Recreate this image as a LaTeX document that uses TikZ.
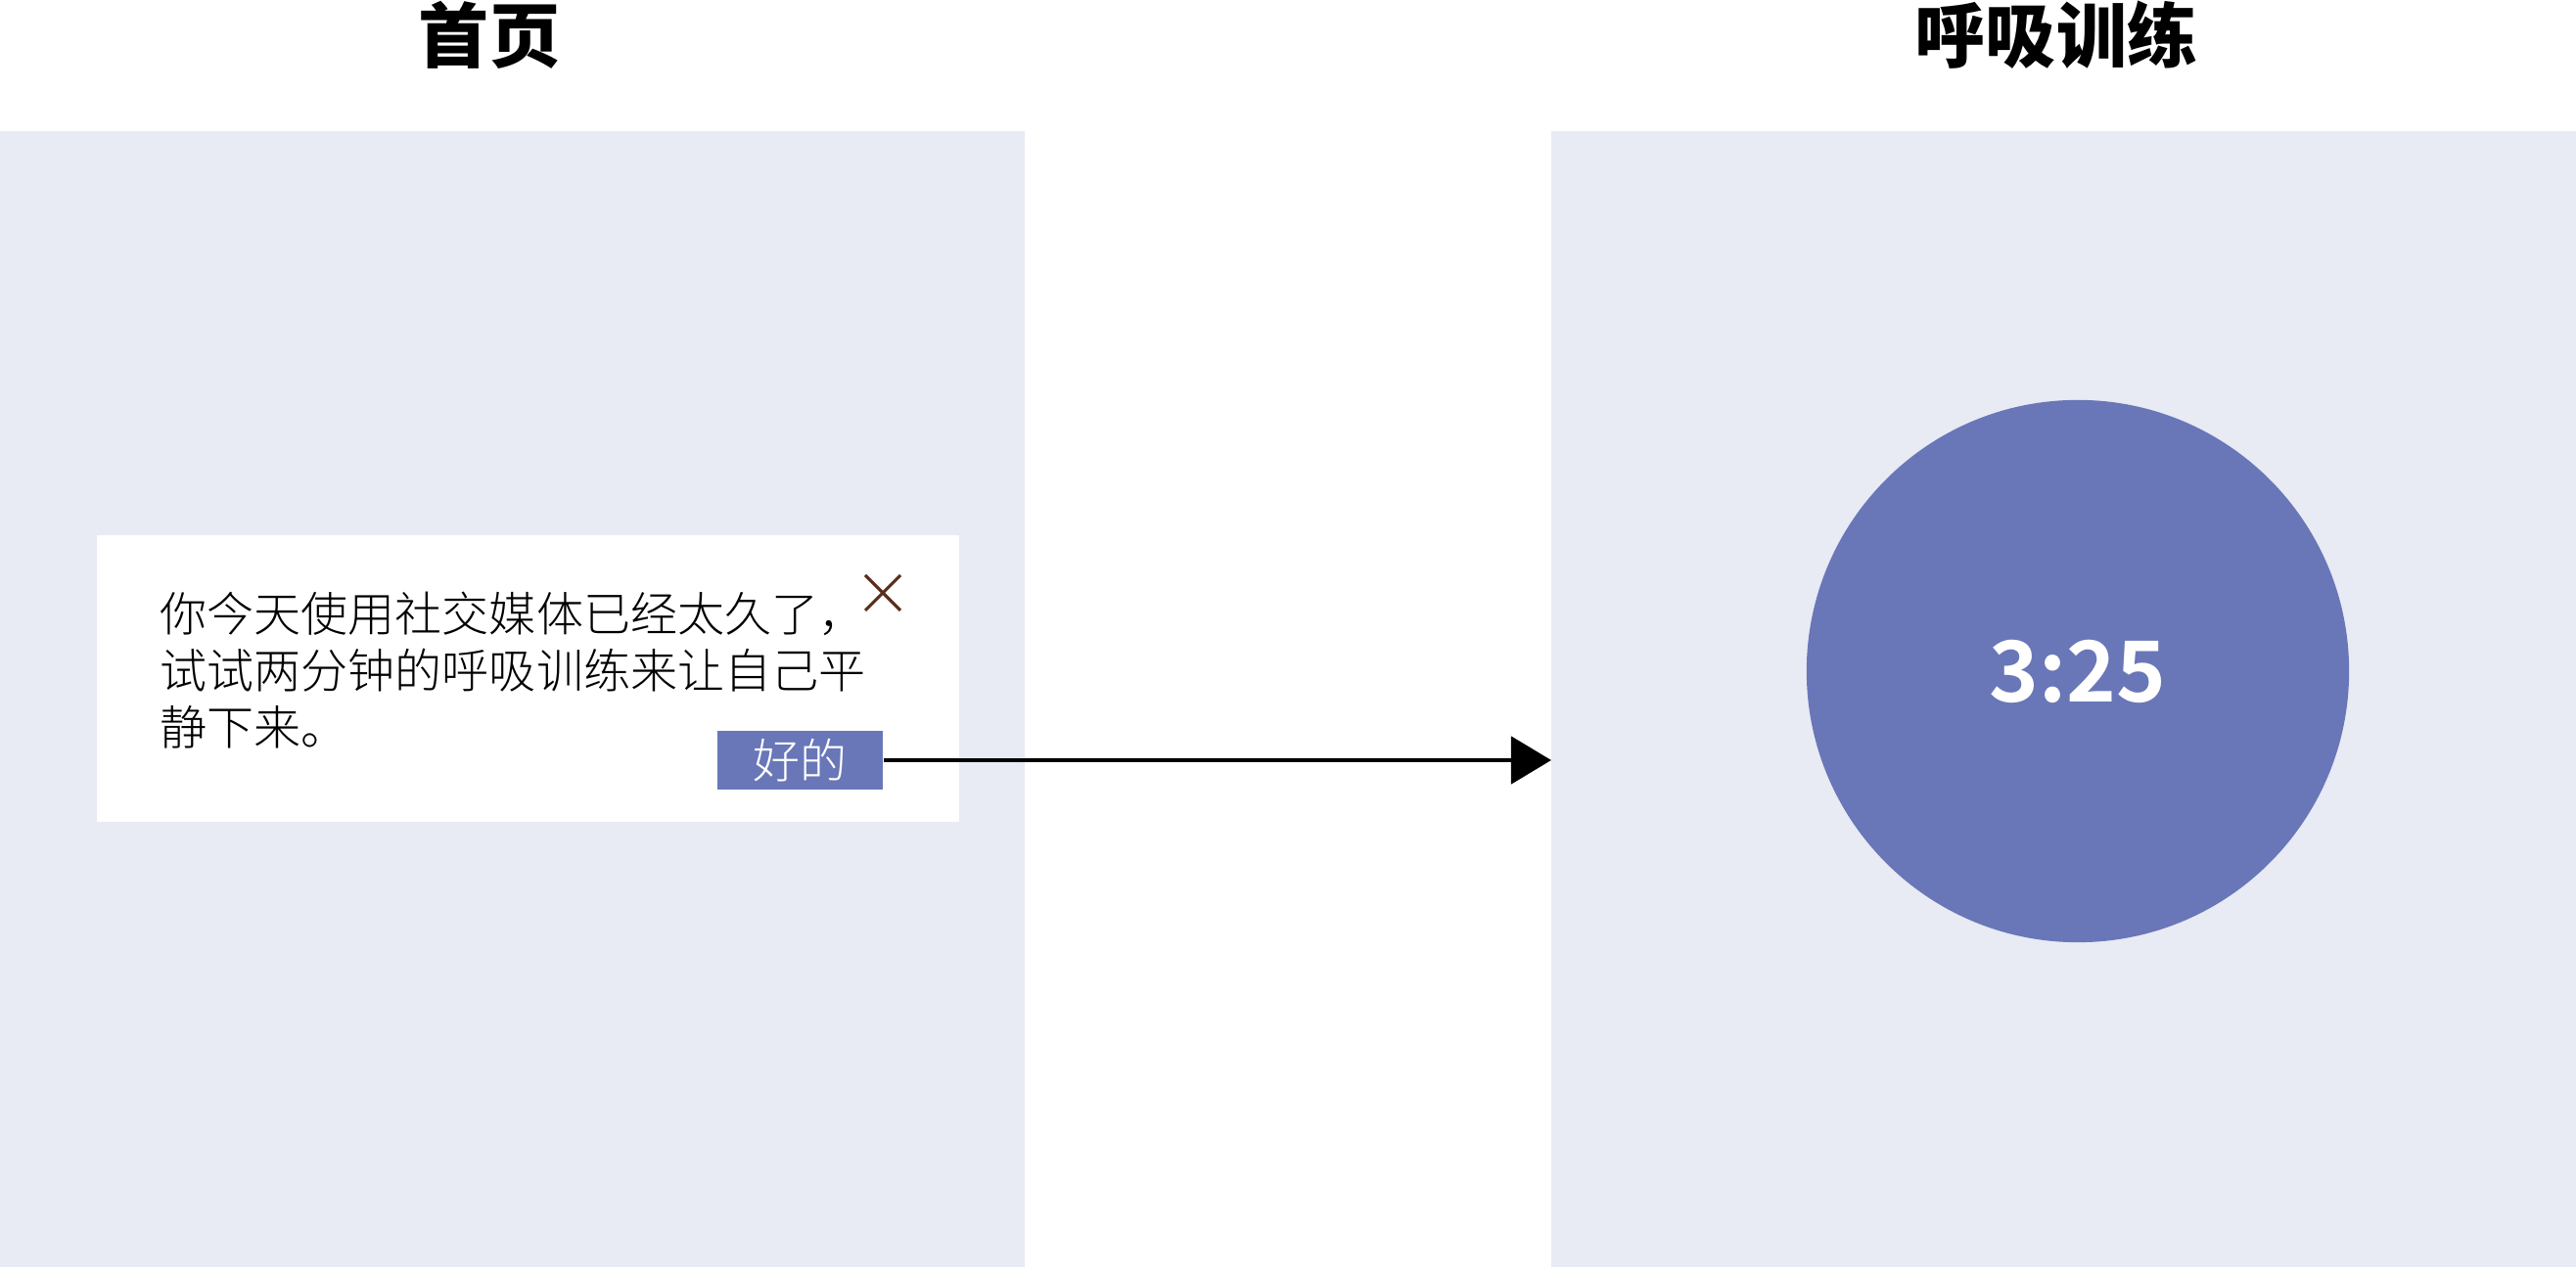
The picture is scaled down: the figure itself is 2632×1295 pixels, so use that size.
\documentclass[tikz,border=0pt]{standalone}
\usepackage{fontspec}
\usetikzlibrary{arrows.meta}
\newfontfamily\cjklight{Noto Sans CJK SC Light}
\newfontfamily\cjkheavy{Noto Sans CJK SC Black}
\newfontfamily\cjkbold{Noto Sans CJK SC Bold}
\definecolor{panelbg}{HTML}{E8EAF4}
\definecolor{accent}{HTML}{6977B8}
\definecolor{closemark}{HTML}{5A2D1C}
\tikzset{
	screentitle/.style={font=\cjkheavy\fontsize{20.5}{24}\selectfont, inner sep=0},
	msgtext/.style={font=\cjklight\fontsize{13.66}{16.5}\selectfont, align=left, inner sep=0, anchor=base west},
	okbtn/.style={fill=accent, text=white, font=\cjklight\fontsize{13.66}{16.5}\selectfont, minimum width=1.69cm, minimum height=0.6cm, inner sep=0},
	timer/.style={circle, fill=accent, text=white, font=\cjkbold\fontsize{24.5}{28}\selectfont, minimum size=5.54cm, inner sep=0},
	flow/.style={line width=1.4pt, -{Triangle[length=0.41cm, width=0.48cm]}},
	closecross/.style={draw=closemark, line width=0.9pt}
}

\begin{document}
\begin{tikzpicture}[x=0.01cm, y=-0.01cm]
			%%%%% START %%%%%
			\useasboundingbox (0, 0) rectangle (2632, 1295);
			
			% two screens
			\fill[panelbg] (0, 134) rectangle (1047, 1295);
			\fill[panelbg] (1585, 134) rectangle (2632, 1295);
			
			\node[screentitle] (homeTitle) at (500, 36) {首页};
			\node[screentitle] (breathTitle) at (2101, 36) {呼吸训练};
			
			% reminder dialog
			\fill[white] (99, 547) rectangle (980, 840);
			\node[msgtext] (msg) at (163, 762) {你今天使用社交媒体已经太久了，\\试试两分钟的呼吸训练来让自己平\\静下来。};
			\draw[closecross] (884, 588) -- (920, 624) (884, 624) -- (920, 588);
			\node[okbtn] (ok) at (817.5, 777) {好的};
			
			% breathing timer
			\node[timer] (clock) at (2123, 686) {3:25};
			
			\coordinate (entry) at (1585, 777);
			\draw[flow] (ok.east) -- (entry);
			%%%%% END %%%%%
		\end{tikzpicture}
\end{document}
